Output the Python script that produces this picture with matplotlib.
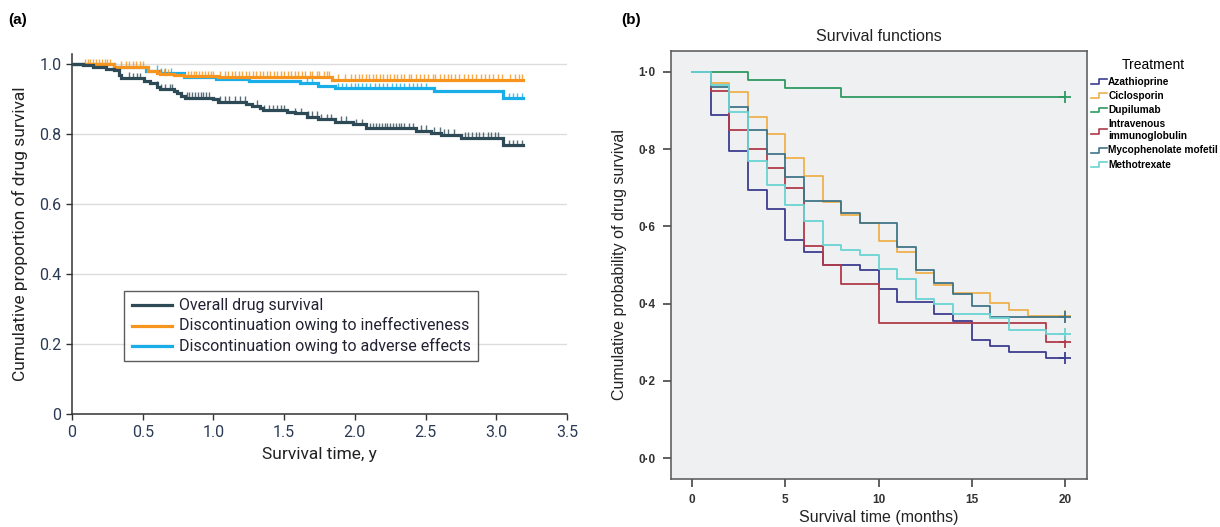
import numpy as np
import matplotlib
matplotlib.use("Agg")
import matplotlib.pyplot as plt
from matplotlib.lines import Line2D
from matplotlib.legend_handler import HandlerBase
from matplotlib import font_manager

# ---- panel (a): drug survival, years ----
overall_t = [0, 0.08, 0.15, 0.24, 0.30, 0.33, 0.35, 0.43, 0.51, 0.55, 0.60, 0.62, 0.72, 0.74,
             0.77, 0.80, 1.00, 1.03, 1.23, 1.27, 1.33, 1.35, 1.52, 1.58, 1.66, 1.74, 1.86,
             1.99, 2.08, 2.43, 2.54, 2.61, 2.75, 3.05]
overall_s = [1.0, 0.997, 0.993, 0.988, 0.984, 0.969, 0.962, 0.960, 0.953, 0.946, 0.936, 0.929,
             0.924, 0.917, 0.910, 0.905, 0.900, 0.893, 0.888, 0.882, 0.874, 0.869, 0.864, 0.860,
             0.850, 0.843, 0.836, 0.829, 0.817, 0.810, 0.805, 0.798, 0.790, 0.769]
overall_cens = [0.40, 0.43, 0.46, 0.48, 0.60, 0.63, 0.66, 0.69, 0.71, 0.81, 0.83, 0.85, 0.87,
                0.89, 0.91, 0.93, 0.95, 0.97, 1.05, 1.08, 1.11, 1.15, 1.19, 1.22, 1.31, 1.36,
                1.39, 1.42, 1.45, 1.48, 1.50, 1.58, 1.62, 1.67, 1.70, 1.73, 1.76, 1.80, 1.83,
                1.90, 1.94, 2.01, 2.05, 2.11, 2.13, 2.15, 2.17, 2.19, 2.21, 2.23, 2.25, 2.27,
                2.29, 2.31, 2.33, 2.35, 2.38, 2.41, 2.47, 2.50, 2.56, 2.60, 2.63, 2.66, 2.70,
                2.78, 2.80, 2.83, 2.86, 2.88, 2.91, 2.94, 2.96, 2.99, 3.01, 3.09, 3.12, 3.15, 3.18]

ineff_t = [0, 0.30, 0.54, 0.60, 0.62, 0.72, 0.79, 1.03, 1.84]
ineff_s = [1.0, 0.993, 0.982, 0.976, 0.972, 0.969, 0.966, 0.964, 0.955]
ineff_cens = [0.09, 0.11, 0.13, 0.15, 0.17, 0.19, 0.21, 0.23, 0.25, 0.27, 0.35, 0.38, 0.40, 0.43,
              0.45, 0.48, 0.50, 0.62, 0.65, 0.68, 0.82, 0.84, 0.86, 0.88, 0.90, 0.92, 0.94,
              0.96, 0.98, 1.00, 1.05, 1.08, 1.10, 1.13, 1.15, 1.18, 1.20, 1.23, 1.25, 1.28,
              1.30, 1.33, 1.35, 1.38, 1.40, 1.43, 1.45, 1.48, 1.50, 1.53, 1.55, 1.58, 1.60,
              1.63, 1.65, 1.68, 1.70, 1.73, 1.75, 1.78, 1.80, 1.82, 1.88, 1.93, 1.97, 2.00,
              2.03, 2.05, 2.08, 2.10, 2.13, 2.15, 2.18, 2.20, 2.23, 2.25, 2.28, 2.30, 2.33,
              2.35, 2.38, 2.40, 2.43, 2.46, 2.49, 2.52, 2.55, 2.57, 2.60, 2.63, 2.66, 2.68,
              2.71, 2.74, 2.77, 2.80, 2.83, 2.86, 2.89, 2.92, 2.95, 2.98, 3.01, 3.04, 3.10,
              3.13, 3.16, 3.18]

adv_t = [0, 0.30, 0.52, 0.62, 0.79, 1.02, 1.25, 1.61, 1.74, 1.86, 2.56, 3.05]
adv_s = [1.0, 0.993, 0.982, 0.974, 0.963, 0.958, 0.951, 0.946, 0.939, 0.932, 0.925, 0.903]
adv_cens = [0.60, 0.63, 0.66, 0.70, 1.66, 1.70, 1.88, 1.91, 1.94, 1.97, 2.00, 2.02, 2.05, 2.08,
            2.11, 2.14, 2.17, 2.20, 2.23, 2.26, 2.29, 2.32, 2.35, 2.38, 2.41, 2.44, 2.47, 2.50,
            3.09, 3.12, 3.15, 3.18]
t_end_a = 3.19

# ---- panel (b): survival functions, months ----
treatments = ["Azathioprine", "Ciclosporin", "Dupilumab", "Intravenous\nimmunoglobulin",
              "Mycophenolate mofetil", "Methotrexate"]
aza_t = [0, 1, 2, 3, 4, 5, 6, 7, 9, 10, 11, 13, 14, 15, 16, 17, 19]
aza_s = [1.0, 0.889, 0.794, 0.694, 0.645, 0.565, 0.535, 0.500, 0.487, 0.437, 0.405, 0.372,
         0.356, 0.307, 0.291, 0.276, 0.259]
cic_t = [0, 1, 2, 3, 4, 5, 6, 7, 8, 9, 10, 11, 12, 13, 14, 16, 17, 18]
cic_s = [1.0, 0.971, 0.949, 0.884, 0.839, 0.778, 0.730, 0.662, 0.629, 0.608, 0.562, 0.535,
         0.480, 0.448, 0.428, 0.401, 0.383, 0.368]
dup_t = [0, 3, 5, 8]
dup_s = [1.0, 0.979, 0.958, 0.935]
ivig_t = [0, 1, 2, 3, 4, 5, 6, 7, 8, 10, 19]
ivig_s = [1.0, 0.95, 0.85, 0.80, 0.75, 0.70, 0.55, 0.50, 0.45, 0.35, 0.30]
myc_t = [0, 1, 2, 3, 4, 5, 6, 8, 9, 11, 12, 13, 14, 15, 16]
myc_s = [1.0, 0.962, 0.910, 0.850, 0.788, 0.729, 0.667, 0.636, 0.608, 0.546, 0.487, 0.454,
         0.425, 0.394, 0.366]
mtx_t = [0, 1, 2, 3, 4, 5, 6, 7, 8, 9, 10, 11, 12, 13, 14, 16, 17, 19]
mtx_s = [1.0, 0.966, 0.897, 0.770, 0.707, 0.655, 0.615, 0.552, 0.539, 0.526, 0.489, 0.463,
         0.411, 0.398, 0.373, 0.362, 0.333, 0.321]
t_end_b = 20

# narrow face for panel (a), Arial-like for panel (b)
fp_a = font_manager.FontProperties(family=['Roboto', 'DejaVu Sans'], stretch='condensed')
ARIAL = ['Liberation Sans', 'DejaVu Sans']
plt.rcParams['font.family'] = ['Roboto', 'DejaVu Sans']

fig = plt.figure(figsize=(12.2, 5.27), dpi=100)

# ---------------- (a) ----------------
ax = fig.add_axes([0.059, 0.2139, 0.4057, 0.684])
col_all, col_ineff, col_adv = '#2e4a56', '#f7941d', '#1aaee8'


def km(ax, t, s, cens, color, label, z):
    tt = list(t) + [t_end_a]
    ss = list(s) + [s[-1]]
    ax.step(tt, ss, where='post', color=color, lw=2.3, label=label, zorder=z,
            solid_joinstyle='miter')
    idx = np.searchsorted(t, cens, side='right') - 1
    lev = np.array(s)[idx]
    ax.vlines(cens, lev, lev + 0.016, color=color, lw=1.0, alpha=0.8, zorder=z)


km(ax, overall_t, overall_s, overall_cens, col_all, 'Overall drug survival', 4)
km(ax, ineff_t, ineff_s, ineff_cens, col_ineff, 'Discontinuation owing to ineffectiveness', 3)
km(ax, adv_t, adv_s, adv_cens, col_adv, 'Discontinuation owing to adverse effects', 2)

ax.set_xlim(0, 3.5)
ax.set_ylim(0, 1.03)
ax.set_xticks(np.arange(0, 3.51, 0.5))
ax.set_xticklabels(['0', '0.5', '1.0', '1.5', '2.0', '2.5', '3.0', '3.5'])
ax.set_yticks([0, 0.2, 0.4, 0.6, 0.8, 1.0])
ax.set_yticklabels(['0', '0.2', '0.4', '0.6', '0.8', '1.0'])
for lab in ax.get_xticklabels() + ax.get_yticklabels():
    lab.set_fontproperties(fp_a)
    lab.set_fontsize(11.5)
ax.grid(axis='y', color='#dcdcdc', lw=1)
ax.set_axisbelow(True)
for sp in ['top', 'right']:
    ax.spines[sp].set_visible(False)
for sp in ['left', 'bottom']:
    ax.spines[sp].set_color('#333333')
    ax.spines[sp].set_linewidth(1.1)
ax.tick_params(colors='#333333', labelcolor='#2b3a55', length=4, width=1)
ax.set_xlabel('Survival time, y', fontproperties=fp_a, fontsize=12.5, color='#222222',
              labelpad=5)
ax.set_ylabel('Cumulative proportion of drug survival', fontproperties=fp_a, fontsize=12.5,
              color='#222222', labelpad=8)
leg = ax.legend(loc='lower left', bbox_to_anchor=(0.091, 0.128), frameon=True,
                prop=fp_a.copy(), fancybox=False, edgecolor='#333333', handlelength=2.9,
                handletextpad=0.5, labelspacing=0.3, borderpad=0.55)
for txt in leg.get_texts():
    txt.set_fontsize(11.5)
    txt.set_color('#222233')
leg.get_frame().set_linewidth(1.0)

# ---------------- (b) ----------------
bx = fig.add_axes([0.55, 0.0911, 0.341, 0.812])
bx.set_facecolor('#eff0f1')
colors_b = ['#3d3d8f', '#eeb04e', '#2f9a62', '#b03a4a', '#3f7487', '#6ad3d3']
series_b = [(aza_t, aza_s), (cic_t, cic_s), (dup_t, dup_s), (ivig_t, ivig_s),
            (myc_t, myc_s), (mtx_t, mtx_s)]
handles = []
for (t, s), c, name in zip(series_b, colors_b, treatments):
    tt = list(t) + [t_end_b]
    ss = list(s) + [s[-1]]
    h, = bx.step(tt, ss, where='post', color=c, lw=1.3, label=name)
    bx.plot([t_end_b], [s[-1]], marker='+', color=c, ms=8, mew=1.3, ls='none')
    handles.append(h)

bx.set_xlim(-1.13, 21.18)
bx.set_ylim(-0.054, 1.054)
bx.set_xticks([0, 5, 10, 15, 20])
bx.set_yticks([0, 0.2, 0.4, 0.6, 0.8, 1.0])
bx.set_yticklabels(['0·0', '0·2', '0·4', '0·6', '0·8', '1·0'])
for lab in bx.get_xticklabels() + bx.get_yticklabels():
    lab.set_family(ARIAL)
    lab.set_fontweight('bold')
    lab.set_fontsize(8.5)
    lab.set_color('#333333')
bx.tick_params(axis='y', length=6, width=1.2, color='#444444', pad=5)
bx.tick_params(axis='x', length=6, width=1.2, color='#444444', pad=5)
for sp in bx.spines.values():
    sp.set_color('#555555')
    sp.set_linewidth(1.1)
bx.set_title('Survival functions', fontsize=11.5, family=ARIAL, color='#222222', pad=7)
bx.set_xlabel('Survival time (months)', fontsize=11.5, family=ARIAL, color='#222222',
              labelpad=3)
bx.set_ylabel('Cumulative probability of drug survival', fontsize=11.5, family=ARIAL,
              color='#222222', labelpad=8)


class StepHandler(HandlerBase):
    def create_artists(self, legend, orig_handle, xdescent, ydescent, width, height,
                       fontsize, trans):
        x0 = -xdescent
        y0 = -ydescent + height * 0.1
        y1 = -ydescent + height * 0.8
        xs = [x0, x0 + width * 0.5, x0 + width * 0.5, x0 + width]
        ys = [y0, y0, y1, y1]
        ln = Line2D(xs, ys, color=orig_handle.get_color(), lw=1.2, transform=trans)
        return [ln]


leg2 = fig.legend(handles, treatments, loc='upper left', bbox_to_anchor=(0.893, 0.893),
                  frameon=False, handler_map={Line2D: StepHandler()}, handlelength=1.5,
                  handletextpad=0.15, labelspacing=0.42, borderaxespad=0, borderpad=0.2,
                  title='Treatment',
                  prop={'family': ARIAL, 'weight': 'bold', 'size': 7.3})
leg2.get_title().set_fontsize(10)
leg2.get_title().set_family(ARIAL)
leg2._legend_box.align = 'left'
leg2.get_title().set_position((30, 0))

fig.text(8 / 1220, 1 - 20 / 527, '(a)', fontsize=11, fontweight='bold', family=ARIAL,
         va='center')
fig.text(621 / 1220, 1 - 20 / 527, '(b)', fontsize=11, fontweight='bold', family=ARIAL,
         va='center')

fig.savefig('out.png', dpi=100)
